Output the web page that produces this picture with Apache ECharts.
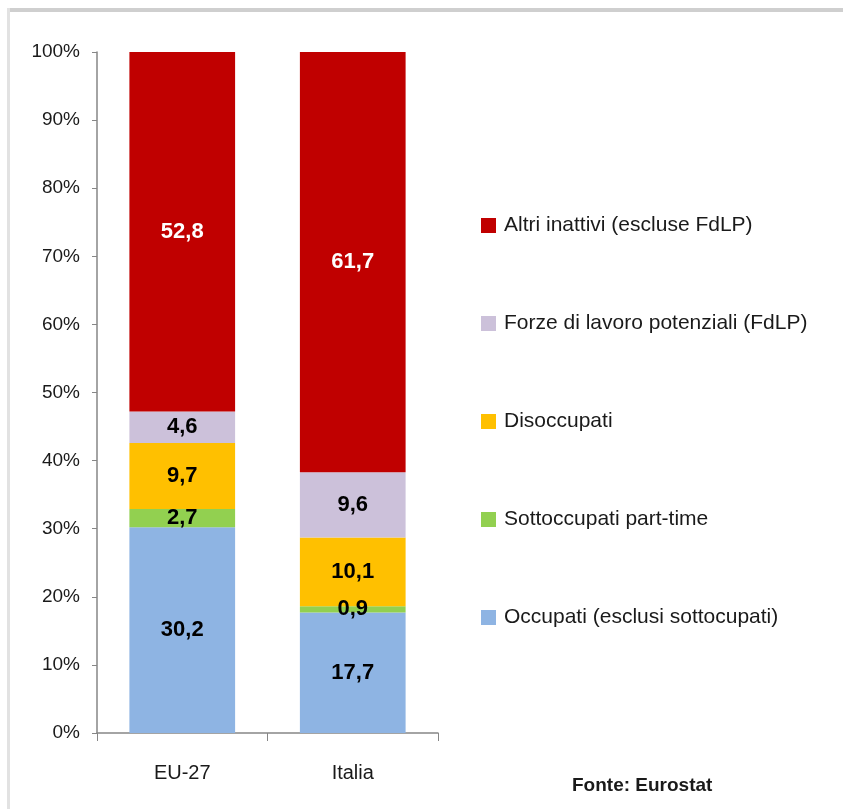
<!DOCTYPE html>
<html>
<head>
<meta charset="utf-8">
<style>
  html, body { margin: 0; padding: 0; background: #fff; }
  #chart { width: 843px; height: 809px; }
</style>
<script src="https://cdn.jsdelivr.net/npm/echarts@6/dist/echarts.min.js"></script>
</head>
<body>
<div id="chart"></div>
<script>
// categorie e serie (valori in %)
var categories = ['EU-27', 'Italia'];
var occupati = [30.2, 17.7];
var sottoccupati = [2.7, 0.9];
var disoccupati = [9.7, 10.1];
var forzePotenziali = [4.6, 9.6];
var altriInattivi = [52.8, 61.7];
var yTicks = [0, 10, 20, 30, 40, 50, 60, 70, 80, 90, 100];

var font = 'Liberation Sans';

function labelFmt(p) {
  return String(p.value).replace('.', ',');
}

function serie(name, data, color, labelColor) {
  return {
    name: name,
    type: 'bar',
    stack: 'tot',
    barWidth: '62%',
    data: data,
    itemStyle: { color: color },
    label: {
      show: true,
      position: 'inside',
      formatter: labelFmt,
      color: labelColor,
      fontFamily: font,
      fontWeight: 'bold',
      fontSize: 22
    }
  };
}

var myChart = echarts.init(document.getElementById('chart'));
myChart.setOption({
  animation: false,
  grid: { left: 97, right: 405, top: 52, bottom: 76 },
  legend: {
    orient: 'vertical',
    left: 476,
    top: 210,
    itemWidth: 15,
    itemHeight: 15,
    itemGap: 77,
    icon: 'rect',
    textStyle: { fontFamily: font, fontSize: 21, color: '#1a1a1a', padding: [0, 0, 0, 3] },
    data: ['Altri inattivi (escluse FdLP)', 'Forze di lavoro potenziali (FdLP)',
      'Disoccupati', 'Sottoccupati part-time', 'Occupati (esclusi sottocupati)']
  },
  xAxis: {
    type: 'category',
    data: categories,
    axisLine: { lineStyle: { color: '#868686', width: 1.5 } },
    axisTick: { show: true, length: 8, lineStyle: { color: '#868686' } },
    axisLabel: { fontFamily: font, fontSize: 20, color: '#1a1a1a', margin: 30 }
  },
  yAxis: {
    type: 'value',
    min: 0,
    max: 100,
    interval: 10,
    axisLine: { show: true, lineStyle: { color: '#868686', width: 1.5 } },
    axisTick: { show: true, length: 5, lineStyle: { color: '#868686' } },
    splitLine: { show: false },
    axisLabel: {
      fontFamily: font, fontSize: 19, color: '#1a1a1a', margin: 17,
      formatter: function (v) { return yTicks.indexOf(v) >= 0 ? v + '%' : ''; }
    }
  },
  series: [
    serie('Occupati (esclusi sottocupati)', occupati, '#8EB4E3', '#000'),
    serie('Sottoccupati part-time', sottoccupati, '#92D050', '#000'),
    serie('Disoccupati', disoccupati, '#FFC000', '#000'),
    serie('Forze di lavoro potenziali (FdLP)', forzePotenziali, '#CCC1DA', '#000'),
    serie('Altri inattivi (escluse FdLP)', altriInattivi, '#C00000', '#fff')
  ],
  graphic: [
    { type: 'rect', shape: { x: 7, y: 8, width: 836, height: 4 }, style: { fill: '#cfcfcf' } },
    { type: 'rect', shape: { x: 7, y: 8, width: 3, height: 801 }, style: { fill: '#e2e2e2' } },
    {
      type: 'text', left: 572, top: 776,
      style: { text: 'Fonte: Eurostat', fontFamily: font, fontWeight: 'bold', fontSize: 19, fill: '#1a1a1a' }
    }
  ]
});
</script>
</body>
</html>
